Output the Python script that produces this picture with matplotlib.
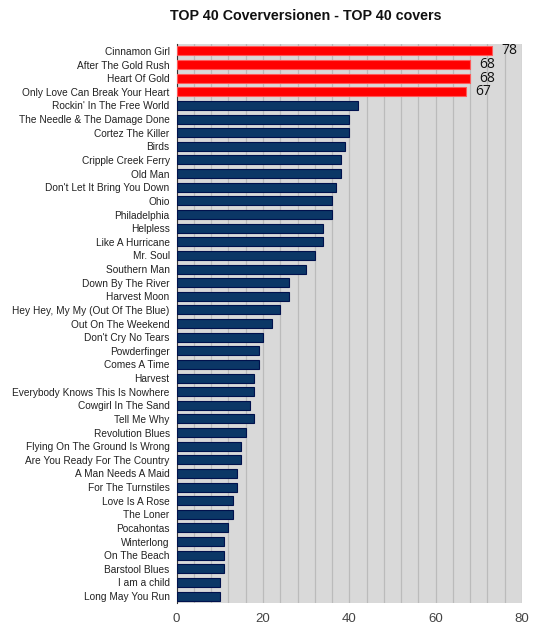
import matplotlib
matplotlib.use("Agg")
import matplotlib.pyplot as plt
import numpy as np

plt.rcParams['font.family'] = ['Liberation Sans', 'DejaVu Sans']

# Songs, top to bottom
songs = [
    'Cinnamon Girl', 'After The Gold Rush', 'Heart Of Gold', 'Only Love Can Break Your Heart',
    "Rockin' In The Free World", 'The Needle & The Damage Done', 'Cortez The Killer', 'Birds',
    'Cripple Creek Ferry', 'Old Man', "Don't Let It Bring You Down", 'Ohio', 'Philadelphia',
    'Helpless', 'Like A Hurricane', 'Mr. Soul', 'Southern Man', 'Down By The River',
    'Harvest Moon', 'Hey Hey, My My (Out Of The Blue)', 'Out On The Weekend', "Don't Cry No Tears",
    'Powderfinger', 'Comes A Time', 'Harvest', 'Everybody Knows This Is Nowhere',
    'Cowgirl In The Sand', 'Tell Me Why', 'Revolution Blues', 'Flying On The Ground Is Wrong',
    'Are You Ready For The Country', 'A Man Needs A Maid', 'For The Turnstiles', 'Love Is A Rose',
    'The Loner', 'Pocahontas', 'Winterlong', 'On The Beach', 'Barstool Blues', 'I am a child',
    'Long May You Run',
]
# bar lengths as drawn in the picture
counts = [73, 68, 68, 67, 42, 40, 40, 39, 38, 38, 37, 36, 36, 34, 34, 32, 30, 26, 26, 24,
          22, 20, 19, 19, 18, 18, 17, 18, 16, 15, 15, 14, 14, 13, 13, 12, 11, 11, 11, 10, 10]
# value labels written next to the top 4 bars
top_labels = ['78', '68', '68', '67']
n_top = 4

fig = plt.figure(figsize=(5.37, 6.4), dpi=100)
ax = fig.add_axes([0.329, 0.058, 0.643, 0.873])
ax.set_facecolor('#d9d9d9')

y = np.arange(len(songs))
colors = ['#ff0000'] * n_top + ['#0b3766'] * (len(songs) - n_top)
edges = ['#ff5a5a'] * n_top + ['#00114d'] * (len(songs) - n_top)
ax.barh(y, counts, height=0.66, color=colors, edgecolor=edges, linewidth=0.8, zorder=3)

for i in range(n_top):
    ax.text(counts[i] + 2.2, y[i], top_labels[i], va='center', ha='left',
            fontsize=10, color='#111111', zorder=4, family=['Open Sans', 'DejaVu Sans'])

ax.set_xlim(0, 80)
ax.set_ylim(len(songs) - 0.5, -0.5)
ax.set_xticks(np.arange(0, 81, 20))
ax.set_xticks(np.arange(0, 81, 4), minor=True)
ax.grid(True, axis='x', which='both', color='#bbbbbb', linewidth=0.9, zorder=1)
ax.set_axisbelow(True)

ax.set_yticks(y)
ax.set_yticklabels(songs, fontsize=7.3, color='#222222')
ax.tick_params(axis='y', length=0, pad=5)
ax.tick_params(axis='x', which='both', length=0, pad=7, labelsize=9.5, labelcolor='#444444')

for side in ['top', 'right', 'bottom']:
    ax.spines[side].set_visible(False)
ax.spines['left'].set_color('#333333')
ax.spines['left'].set_linewidth(0.8)

fig.text(0.570, 0.975, 'TOP 40 Coverversionen - TOP 40 covers', ha='center', va='center',
         fontsize=10.3, fontweight='bold', color='#111111')

fig.savefig('out.png', dpi=100, facecolor='white')
